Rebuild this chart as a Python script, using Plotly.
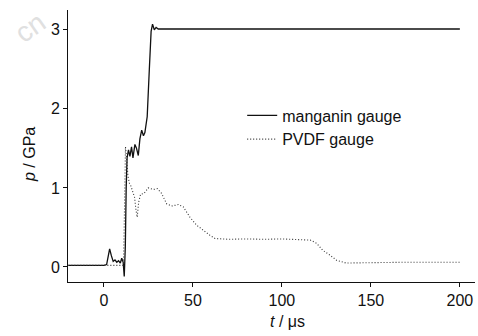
import plotly.graph_objects as go

# Manganin gauge (solid)
manganin_t = [-20, -15, -10, -5, -2, 0, 1.5, 2.2, 3.2, 4.2, 5.2, 6.2, 7.2, 8.2, 9.2, 10.0, 10.8, 11.4,
              12.0, 12.5, 13.0, 13.8, 14.6, 15.5, 16.3, 17.4, 18.3, 19.3, 20.2, 21.2, 22.2, 23.0, 24.3,
              25.5, 26.5, 27.3, 28.3, 29.3, 30.5, 40, 60, 80, 100, 120, 140, 160, 180, 200]
manganin_p = [0.02, 0.02, 0.02, 0.02, 0.02, 0.02, 0.03, 0.10, 0.23, 0.14, 0.07, 0.09, 0.06, 0.08, 0.05, 0.11, 0.06, -0.12,
              0.25, 1.00, 1.38, 1.48, 1.40, 1.52, 1.38, 1.55, 1.50, 1.41, 1.62, 1.73, 1.66, 1.70, 1.90,
              2.50, 2.98, 3.07, 3.00, 3.03, 3.01, 3.01, 3.01, 3.01, 3.01, 3.01, 3.01, 3.01, 3.01, 3.01]

# PVDF gauge (dotted)
pvdf_t = [-20, -10, 0, 5, 11.0, 11.6, 12.1, 12.8, 13.5, 14.3, 15.2, 16.2, 17.2, 18.0, 18.7, 19.5,
          20.6, 22.5, 24.9, 27.7, 30.0, 32.4, 35.2, 38.0, 41.8, 44.6, 48.3, 52.0, 55.8, 59.6, 62.4,
          70, 80, 90, 100, 110, 116, 119.5, 123, 127, 130.7, 136, 150, 170, 200]
pvdf_p = [0.02, 0.02, 0.02, 0.02, 0.02, 0.80, 1.52, 1.35, 1.15, 1.06, 1.02, 0.95, 0.88, 0.72, 0.63, 0.82,
          0.92, 0.93, 1.00, 0.98, 0.99, 0.93, 0.80, 0.77, 0.79, 0.76, 0.63, 0.53, 0.46, 0.40, 0.36,
          0.35, 0.355, 0.35, 0.355, 0.35, 0.34, 0.30, 0.21, 0.15, 0.085, 0.05, 0.055, 0.06, 0.06]

x_ticks = [0, 50, 100, 150, 200]
y_ticks = [0, 1, 2, 3]
series_names = ["manganin gauge", "PVDF gauge"]

FONT = "Liberation Sans, Arial, sans-serif"

fig = go.Figure()
fig.add_trace(go.Scatter(x=manganin_t, y=manganin_p, mode="lines", name=series_names[0],
                         line=dict(color="#111111", width=1.3)))
fig.add_trace(go.Scatter(x=pvdf_t, y=pvdf_p, mode="lines", name=series_names[1],
                         line=dict(color="#333333", width=1.1, dash="1px,2px")))

fig.update_layout(
    width=478, height=336,
    margin=dict(l=68, r=3, t=10, b=54),
    paper_bgcolor="white", plot_bgcolor="white",
    font=dict(family=FONT, size=16, color="#111111"),
    showlegend=True,
    legend=dict(x=0.428, y=0.675, xanchor="left", yanchor="top",
                bgcolor="rgba(0,0,0,0)", font=dict(size=16), tracegroupgap=0,
                itemwidth=30),
    xaxis=dict(range=[-20.2, 208.5], tickvals=x_ticks, showline=True, linecolor="#111111",
               linewidth=1, ticks="outside", ticklen=4, tickcolor="#111111",
               showgrid=False, zeroline=False),
    yaxis=dict(range=[-0.19, 3.25], tickvals=y_ticks, showline=True, linecolor="#111111",
               linewidth=1, ticks="outside", ticklen=4, tickcolor="#111111",
               showgrid=False, zeroline=False),
    annotations=[
        dict(text="<i>t</i> / μs", xref="paper", yref="paper", x=(287 - 68) / 407, y=(282 - 321) / 272,
             xanchor="center", yanchor="middle", showarrow=False, font=dict(size=16)),
        dict(text="<i>p</i> / GPa", xref="paper", yref="paper", x=(29 - 68) / 407, y=(282 - 155) / 272,
             xanchor="center", yanchor="middle", showarrow=False, textangle=-90, font=dict(size=16)),
        dict(text="cn", xref="paper", yref="paper", x=(30 - 68) / 407, y=(282 - 27) / 272,
             xanchor="center", yanchor="middle", showarrow=False, textangle=-35,
             font=dict(size=28, color="#e0e0e0", family="Liberation Sans, Arial, sans-serif")),
    ],
)

fig.write_html("out.html")
